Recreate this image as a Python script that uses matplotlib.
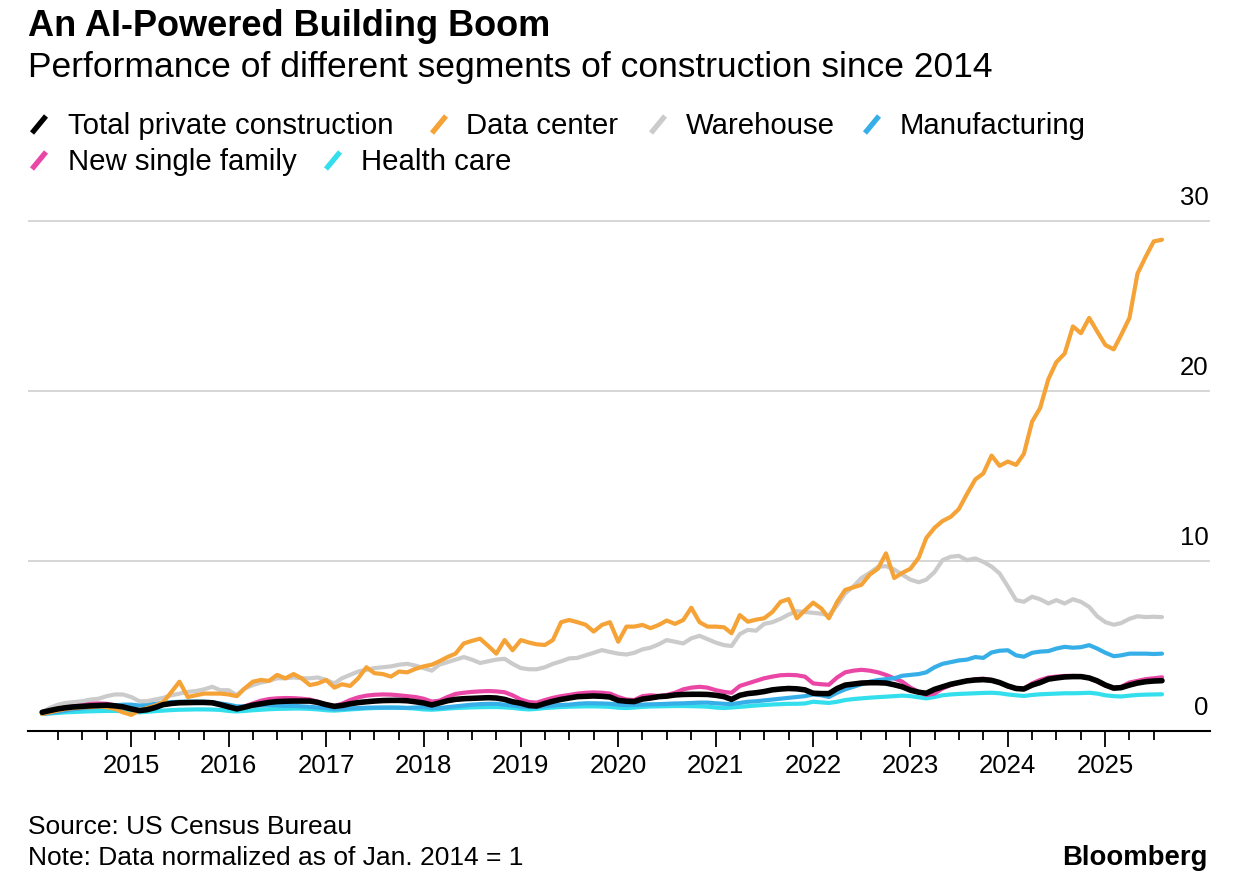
import numpy as np
import pandas as pd
import matplotlib
matplotlib.use('Agg')
import matplotlib.pyplot as plt
import matplotlib.dates as mdates
from matplotlib.lines import Line2D

plt.rcParams['font.family'] = ['Liberation Sans', 'DejaVu Sans']

# monthly, Feb 2014 .. Aug 2025, normalized Jan 2014 = 1
months = pd.date_range('2014-02-01', '2025-08-01', freq='MS')

total = [1.1, 1.2, 1.3, 1.37, 1.42, 1.45, 1.48, 1.5, 1.52, 1.48, 1.42,
         1.3, 1.2, 1.25, 1.38, 1.55, 1.62, 1.66, 1.67, 1.68, 1.68, 1.66, 1.55,
         1.42, 1.3, 1.4, 1.52, 1.6, 1.68, 1.73, 1.75, 1.76, 1.76, 1.76, 1.68,
         1.55, 1.45, 1.5, 1.6, 1.67, 1.72, 1.76, 1.79, 1.8, 1.8, 1.78, 1.72,
         1.65, 1.53, 1.65, 1.78, 1.86, 1.9, 1.92, 1.94, 1.96, 1.94, 1.86, 1.72,
         1.63, 1.5, 1.47, 1.62, 1.75, 1.86, 1.94, 2.02, 2.04, 2.06, 2.04, 2.0,
         1.8, 1.75, 1.73, 1.88, 1.94, 2.02, 2.05, 2.12, 2.15, 2.16, 2.16, 2.15,
         2.1, 2.02, 1.86, 2.1, 2.2, 2.25, 2.32, 2.42, 2.47, 2.5, 2.48, 2.42,
         2.22, 2.2, 2.2, 2.5, 2.7, 2.76, 2.82, 2.84, 2.84, 2.82, 2.72, 2.6,
         2.4, 2.28, 2.22, 2.45, 2.6, 2.75, 2.85, 2.95, 3.0, 3.02, 2.98, 2.85,
         2.65, 2.5, 2.47, 2.7, 2.85, 3.05, 3.12, 3.18, 3.2, 3.2, 3.12, 2.95,
         2.7, 2.52, 2.55, 2.7, 2.82, 2.9, 2.94, 2.96]

data_center = [1.0, 1.1, 1.2, 1.3, 1.35, 1.4, 1.4, 1.45, 1.4, 1.3, 1.1,
               0.95, 1.2, 1.35, 1.5, 1.7, 2.3, 2.9, 2.0, 2.1, 2.2, 2.2, 2.2,
               2.15, 2.05, 2.5, 2.9, 3.0, 2.95, 3.3, 3.1, 3.35, 3.1, 2.7, 2.8,
               3.0, 2.55, 2.75, 2.65, 3.1, 3.75, 3.4, 3.35, 3.2, 3.5, 3.45, 3.65,
               3.8, 3.9, 4.1, 4.35, 4.55, 5.15, 5.3, 5.43, 5.0, 4.55, 5.35, 4.75,
               5.35, 5.2, 5.1, 5.06, 5.35, 6.4, 6.53, 6.4, 6.25, 5.85, 6.24, 6.4,
               5.25, 6.14, 6.14, 6.24, 6.05, 6.24, 6.5, 6.3, 6.53, 7.25, 6.4, 6.14,
               6.14, 6.1, 5.75, 6.82, 6.43, 6.55, 6.63, 7.0, 7.6, 7.76, 6.63, 7.1,
               7.55, 7.2, 6.63, 7.6, 8.3, 8.45, 8.6, 9.2, 9.55, 10.45, 9.0, 9.3,
               9.55, 10.2, 11.35, 11.95, 12.35, 12.6, 13.05, 13.95, 14.8, 15.15, 16.2, 15.6,
               15.85, 15.65, 16.3, 18.2, 19.0, 20.7, 21.7, 22.2, 23.8, 23.4, 24.3, 23.5,
               22.7, 22.45, 23.3, 24.3, 26.9, 27.9, 28.8, 28.9]

warehouse = [1.1, 1.35, 1.55, 1.65, 1.7, 1.75, 1.85, 1.9, 2.05, 2.15, 2.15,
             2.0, 1.75, 1.75, 1.85, 1.95, 2.1, 2.2, 2.3, 2.35, 2.45, 2.6, 2.4,
             2.4, 2.1, 2.5, 2.7, 2.85, 2.95, 3.1, 3.1, 3.15, 3.1, 3.1, 3.15,
             3.0, 2.8, 3.1, 3.3, 3.5, 3.6, 3.7, 3.75, 3.8, 3.9, 3.95, 3.85,
             3.7, 3.55, 3.9, 4.05, 4.2, 4.35, 4.2, 4.0, 4.1, 4.2, 4.25, 3.95,
             3.7, 3.63, 3.63, 3.75, 3.95, 4.1, 4.27, 4.3, 4.45, 4.6, 4.76, 4.65,
             4.55, 4.5, 4.6, 4.8, 4.9, 5.1, 5.35, 5.25, 5.15, 5.45, 5.6, 5.4,
             5.2, 5.05, 5.0, 5.7, 5.95, 5.9, 6.3, 6.4, 6.6, 6.85, 7.05, 7.0,
             6.95, 6.9, 6.8, 7.4, 8.1, 8.5, 9.0, 9.3, 9.65, 9.7, 9.5, 9.2,
             8.9, 8.75, 8.9, 9.35, 10.05, 10.25, 10.3, 10.05, 10.15, 9.95, 9.67, 9.27,
             8.5, 7.7, 7.6, 7.9, 7.75, 7.5, 7.7, 7.5, 7.75, 7.6, 7.3, 6.75,
             6.4, 6.25, 6.35, 6.6, 6.75, 6.7, 6.72, 6.7]

manufacturing = [1.0, 1.05, 1.12, 1.2, 1.28, 1.33, 1.38, 1.42, 1.47, 1.5, 1.55,
                 1.55, 1.5, 1.55, 1.6, 1.65, 1.7, 1.72, 1.73, 1.73, 1.72, 1.7, 1.62,
                 1.55, 1.45, 1.45, 1.48, 1.5, 1.52, 1.5, 1.48, 1.48, 1.45, 1.42, 1.38,
                 1.35, 1.28, 1.3, 1.33, 1.35, 1.37, 1.38, 1.38, 1.38, 1.37, 1.36, 1.38,
                 1.4, 1.35, 1.35, 1.4, 1.45, 1.5, 1.55, 1.58, 1.6, 1.6, 1.55, 1.5,
                 1.43, 1.4, 1.4, 1.45, 1.5, 1.53, 1.55, 1.6, 1.63, 1.63, 1.62, 1.6,
                 1.55, 1.52, 1.53, 1.55, 1.57, 1.58, 1.6, 1.62, 1.63, 1.65, 1.67, 1.67,
                 1.63, 1.6, 1.58, 1.65, 1.72, 1.75, 1.8, 1.85, 1.9, 1.95, 2.0, 2.05,
                 2.15, 2.1, 2.0, 2.25, 2.45, 2.6, 2.75, 2.9, 3.0, 3.05, 3.1, 3.25,
                 3.3, 3.35, 3.45, 3.75, 3.95, 4.05, 4.15, 4.2, 4.35, 4.3, 4.62, 4.72,
                 4.75, 4.45, 4.37, 4.6, 4.67, 4.7, 4.85, 4.95, 4.9, 4.93, 5.05, 4.85,
                 4.6, 4.4, 4.45, 4.55, 4.55, 4.55, 4.53, 4.55]

single_family = [1.05, 1.2, 1.35, 1.45, 1.52, 1.58, 1.62, 1.62, 1.6, 1.52, 1.42,
                 1.3, 1.2, 1.28, 1.42, 1.58, 1.65, 1.7, 1.7, 1.7, 1.68, 1.65, 1.55,
                 1.42, 1.32, 1.45, 1.62, 1.78, 1.88, 1.92, 1.94, 1.93, 1.9, 1.85, 1.72,
                 1.56, 1.47, 1.6, 1.82, 1.98, 2.08, 2.13, 2.15, 2.14, 2.1, 2.05, 2.0,
                 1.9, 1.73, 1.78, 2.0, 2.18, 2.25, 2.3, 2.33, 2.35, 2.33, 2.28, 2.1,
                 1.85, 1.7, 1.67, 1.82, 1.95, 2.05, 2.12, 2.2, 2.25, 2.27, 2.25, 2.2,
                 2.0, 1.85, 1.82, 2.05, 2.1, 2.06, 2.12, 2.25, 2.45, 2.55, 2.6, 2.55,
                 2.4, 2.3, 2.25, 2.65, 2.8, 2.95, 3.1, 3.2, 3.28, 3.3, 3.28, 3.2,
                 2.8, 2.75, 2.72, 3.15, 3.45, 3.55, 3.6, 3.55, 3.45, 3.3, 3.1, 2.9,
                 2.55, 2.3, 2.12, 2.2, 2.5, 2.7, 2.85, 2.95, 3.05, 3.08, 3.0, 2.85,
                 2.62, 2.5, 2.47, 2.8, 3.0, 3.15, 3.2, 3.24, 3.24, 3.22, 3.12, 2.9,
                 2.68, 2.55, 2.6, 2.85, 2.95, 3.05, 3.1, 3.16]

health_care = [1.0, 1.03, 1.06, 1.1, 1.12, 1.14, 1.16, 1.17, 1.18, 1.18, 1.16,
               1.12, 1.1, 1.13, 1.17, 1.2, 1.23, 1.25, 1.26, 1.27, 1.27, 1.26, 1.24,
               1.18, 1.15, 1.18, 1.22, 1.25, 1.28, 1.3, 1.31, 1.32, 1.32, 1.3, 1.27,
               1.22, 1.2, 1.23, 1.27, 1.3, 1.33, 1.35, 1.36, 1.37, 1.37, 1.35, 1.32,
               1.27, 1.25, 1.28, 1.32, 1.35, 1.37, 1.39, 1.4, 1.41, 1.41, 1.39, 1.36,
               1.3, 1.27, 1.3, 1.35, 1.38, 1.41, 1.43, 1.44, 1.45, 1.45, 1.44, 1.42,
               1.37, 1.35, 1.38, 1.42, 1.44, 1.45, 1.46, 1.47, 1.47, 1.46, 1.45, 1.43,
               1.38, 1.35, 1.38, 1.42, 1.46, 1.5, 1.53, 1.56, 1.58, 1.6, 1.6, 1.62,
               1.72, 1.68, 1.65, 1.72, 1.82, 1.88, 1.92, 1.96, 1.99, 2.02, 2.05, 2.08,
               2.05, 1.98, 1.92, 2.0, 2.1, 2.15, 2.18, 2.2, 2.22, 2.24, 2.25, 2.22,
               2.15, 2.1, 2.06, 2.12, 2.16, 2.18, 2.2, 2.22, 2.22, 2.23, 2.25, 2.2,
               2.1, 2.05, 2.03, 2.08, 2.12, 2.14, 2.15, 2.16]

# legend order, colours
names = ['Total private construction', 'Data center', 'Warehouse', 'Manufacturing',
         'New single family', 'Health care']
colors = ['#000000', '#f5a236', '#cbcbcb', '#36aee8', '#ea46a6', '#33dfec']
series = [total, data_center, warehouse, manufacturing, single_family, health_care]
zorders = [7, 6, 5, 4, 3, 2]
widths = [4.0, 3.0, 3.0, 3.0, 3.0, 3.0]

yticks = [0, 10, 20, 30]
years = list(range(2015, 2026))

W, H = 1237, 873
fig = plt.figure(figsize=(W / 100, H / 100), dpi=100)
ax = fig.add_axes([28 / W, (H - 731) / H, (1210 - 28) / W, (731 - 215) / H])

for s, c, z, lw in zip(series, colors, zorders, widths):
    ax.plot(months, s, color=c, lw=lw, zorder=z, solid_joinstyle='round',
            solid_capstyle='round')

ax.set_xlim(pd.Timestamp('2013-12-10'), pd.Timestamp('2026-01-28'))
ax.set_ylim(0, (731 - 215) / 17.0)

for v in yticks[1:]:
    ax.axhline(v, color='#cccccc', lw=1.1, zorder=0)
for v in yticks:
    ax.annotate(str(v), xy=(1.0, v), xycoords=ax.get_yaxis_transform(),
                xytext=(-1, 8), textcoords='offset points',
                ha='right', va='bottom', fontsize=18.5)

for sp in ['top', 'right', 'left']:
    ax.spines[sp].set_visible(False)
ax.spines['bottom'].set_linewidth(1.5)
ax.spines['bottom'].set_zorder(10)
ax.set_yticks([])

# long ticks on January, short ones every quarter
major = [pd.Timestamp(f'{y}-01-01') for y in years]
minor = [d for d in pd.date_range('2014-04-01', '2025-07-01', freq='QS-JAN') if d.month != 1]
ax.set_xticks(major)
ax.set_xticklabels([str(y) for y in years])
ax.set_xticks(minor, minor=True)
ax.tick_params(axis='x', which='major', length=11.5, width=1.3, pad=5,
               labelsize=18.5, direction='out')
ax.tick_params(axis='x', which='minor', length=6.5, width=1.3, direction='out')

# header
fig.text(28 / W, 1 - 36 / H, 'An AI-Powered Building Boom', fontsize=26,
         fontweight='bold', va='baseline')
fig.text(28 / W, 1 - 77 / H, 'Performance of different segments of construction since 2014',
         fontsize=25.5, va='baseline')

# legend with slanted swatches
legend_pos = [(32, 68, 134), (432, 466, 134), (651, 686, 134), (865, 900, 134),
              (32, 68, 170), (326, 361, 170)]
for (sx, tx, base), name, c in zip(legend_pos, names, colors):
    fig.add_artist(Line2D([sx / W, (sx + 14) / W], [1 - (base - 1) / H, 1 - (base - 18) / H],
                          color=c, lw=3.8, solid_capstyle='butt', transform=fig.transFigure))
    fig.text(tx / W, 1 - base / H, name, fontsize=21.2, va='baseline')

# footer
fig.text(28 / W, 1 - 834 / H, 'Source: US Census Bureau', fontsize=19, va='baseline')
fig.text(28 / W, 1 - 865 / H, 'Note: Data normalized as of Jan. 2014 = 1', fontsize=19,
         va='baseline')
fig.text(1208 / W, 1 - 865 / H, 'Bloomberg', fontsize=19.8, fontweight='bold',
         ha='right', va='baseline')

fig.savefig('out.png', dpi=100)
